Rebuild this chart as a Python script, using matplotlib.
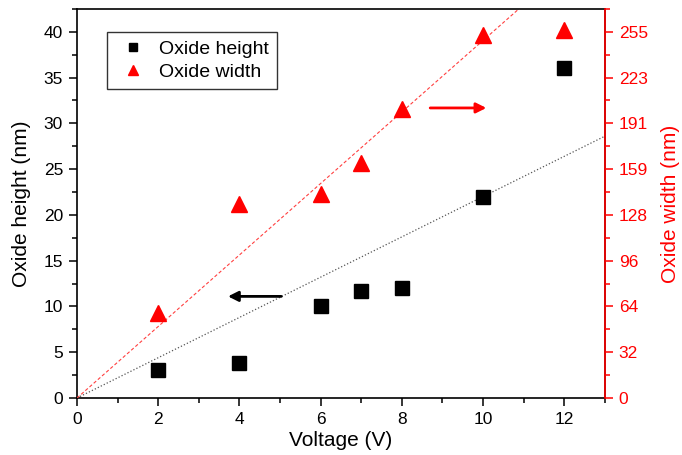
import numpy as np
import matplotlib.pyplot as plt
from matplotlib.ticker import MultipleLocator

plt.rcParams['font.family'] = ['Liberation Sans', 'DejaVu Sans']

voltage = [2, 4, 6, 7, 8, 10, 12]
height_nm = [3.1, 3.8, 10.05, 11.7, 12.0, 22.0, 36.0]
width_nm = [59, 135, 142, 164, 201, 253, 256]
height_slope = 2.2    # nm/V, dotted fit through origin
width_slope = 24.9    # nm/V, dashed fit through origin
width_ticks = [0, 32, 64, 96, 128, 159, 191, 223, 255]

scale = 255 / 40.0    # right axis units per left axis unit

fig = plt.figure(figsize=(6.82, 4.55), dpi=100)
ax = fig.add_axes([0.1129, 0.1253, 0.774, 0.855])
ax2 = ax.twinx()

xfit = np.array([0, 13])
ax.plot(xfit, height_slope * xfit, ':', color='#555555', lw=0.9, zorder=1)
ax2.plot(xfit, width_slope * xfit, '--', color='#ff4040', lw=0.8,
         dashes=(3, 2), zorder=1)

h1, = ax.plot(voltage, height_nm, 's', color='black', ms=9.5, ls='none',
              label='Oxide height')
h2, = ax2.plot(voltage, width_nm, '^', color='red', ms=11, ls='none',
               label='Oxide width')

ax.annotate('', xy=(3.65, 11.1), xytext=(5.1, 11.1),
            arrowprops=dict(arrowstyle='-|>', color='black', lw=2,
                            mutation_scale=15))
ax2.annotate('', xy=(10.15, 202), xytext=(8.63, 202),
             arrowprops=dict(arrowstyle='-|>', color='red', lw=2,
                             mutation_scale=15))

ax.set_xlim(0, 13)
ax.set_ylim(0, 42.5)
ax2.set_ylim(0, 42.5 * scale)

ax.xaxis.set_major_locator(MultipleLocator(2))
ax.xaxis.set_minor_locator(MultipleLocator(1))
ax.yaxis.set_major_locator(MultipleLocator(5))
ax.yaxis.set_minor_locator(MultipleLocator(2.5))
ax2.set_yticks([i * 5 * scale for i in range(9)])
ax2.set_yticklabels([str(t) for t in width_ticks])
ax2.yaxis.set_minor_locator(MultipleLocator(2.5 * scale))

for a in (ax, ax2):
    for s in a.spines.values():
        s.set_linewidth(1.2)
ax2.spines['right'].set_color('red')
ax2.spines['left'].set_visible(False)
ax2.spines['top'].set_visible(False)
ax2.spines['bottom'].set_visible(False)

ax.tick_params(which='major', direction='out', length=6, width=1.1,
               labelsize=12.5, pad=4, right=False, top=False)
ax.tick_params(which='minor', direction='out', length=3.5, width=1.1,
               right=False, top=False)
ax2.tick_params(which='major', direction='out', length=6, width=1.1,
                labelsize=12.5, pad=4, colors='red')
ax2.tick_params(which='minor', direction='out', length=3.5, width=1.1,
                colors='red')

ax.set_xlabel('Voltage (V)', fontsize=15, labelpad=3)
ax.set_ylabel('Oxide height (nm)', fontsize=15, labelpad=9)
ax2.set_ylabel('Oxide width (nm)', fontsize=15, color='red', labelpad=9)

leg = ax.legend([h1, h2], ['Oxide height', 'Oxide width'], loc='upper left',
                bbox_to_anchor=(0.057, 0.941), borderaxespad=0, fontsize=14,
                fancybox=False, edgecolor='black', markerscale=0.6,
                handletextpad=0.4, borderpad=0.45, labelspacing=0.25,
                handlelength=1.8)
leg.get_frame().set_linewidth(1.0)

fig.savefig('out.png', dpi=100)
